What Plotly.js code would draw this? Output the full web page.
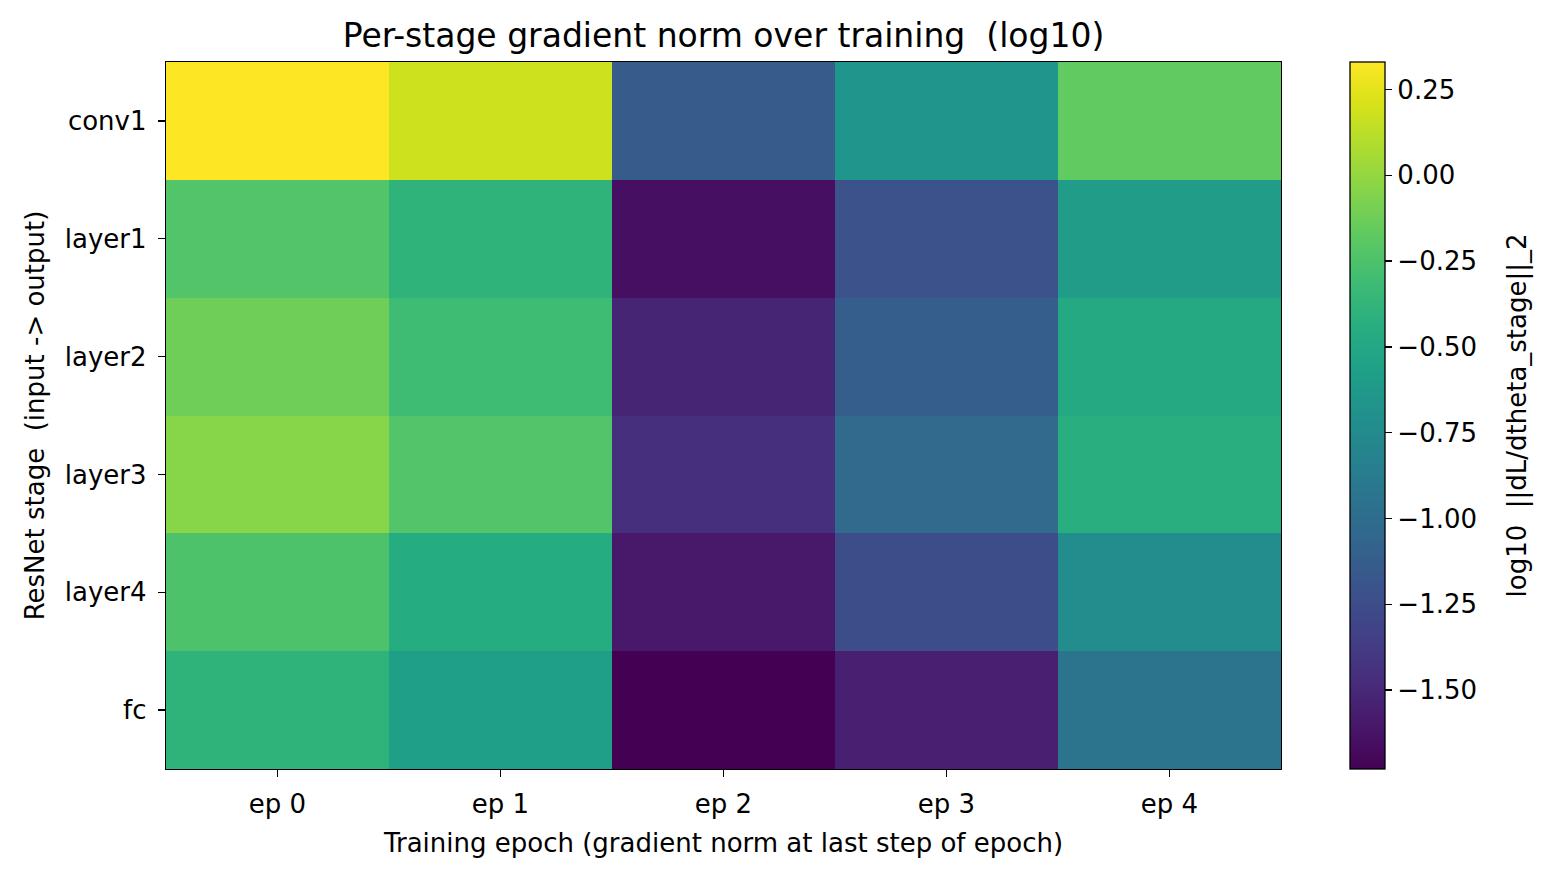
<!DOCTYPE html>
<html>
<head>
<meta charset="utf-8">
<script src="https://cdn.plot.ly/plotly-3.0.1.min.js"></script>
<style>html,body{margin:0;padding:0;background:#fff;}#chart{width:1550px;height:877px;}</style>
</head>
<body>
<div id="chart"></div>
<script>
const epochs = ["ep 0", "ep 1", "ep 2", "ep 3", "ep 4"];
const stages = ["conv1", "layer1", "layer2", "layer3", "layer4", "fc"];
const conv1  = [ 0.33,  0.18, -1.14, -0.66, -0.17];
const layer1 = [-0.23, -0.39, -1.65, -1.21, -0.60];
const layer2 = [-0.12, -0.31, -1.52, -1.12, -0.48];
const layer3 = [-0.04, -0.23, -1.45, -1.02, -0.43];
const layer4 = [-0.25, -0.46, -1.60, -1.25, -0.74];
const fc     = [-0.39, -0.58, -1.73, -1.55, -0.95];
const zValues = [conv1, layer1, layer2, layer3, layer4, fc];
const cbTitle = "log10\u00a0\u00a0||dL/dtheta_stage||_2";

const fam = "DejaVu Sans, sans-serif";
const FS = 26;
const trace = {
  type: "heatmap",
  x: epochs,
  y: stages,
  z: zValues,
  colorscale: "Viridis",
  zsmooth: false,
  colorbar: {
    x: 1.0619, xanchor: "left", xref: "paper",
    y: 0.5, yanchor: "middle", len: 1, lenmode: "fraction",
    thickness: 35, thicknessmode: "pixels",
    outlinewidth: 1.3, outlinecolor: "#000",
    tickmode: "linear", tick0: 0, dtick: 0.25, tickformat: ".2f",
    ticks: "outside", ticklen: 7, tickwidth: 1.3, tickcolor: "#000",
    tickfont: {family: fam, size: FS, color: "#000"},
    xpad: 0, ypad: 0
  }
};

const layout = {
  width: 1550, height: 877,
  paper_bgcolor: "#fff", plot_bgcolor: "#fff",
  margin: {l: 166, r: 269, t: 62, b: 108, pad: 0},
  font: {family: fam, size: FS, color: "#000"},
  title: {
    text: "Per-stage gradient norm over training\u00a0\u00a0(log10)",
    x: 0.5, xref: "paper", xanchor: "center",
    y: 1 - 35/877, yref: "container", yanchor: "middle",
    font: {family: fam, size: 33, color: "#000"}
  },
  xaxis: {
    type: "category", range: [-0.5, 4.5],
    showline: true, linecolor: "#000", linewidth: 1.3, mirror: true,
    ticks: "outside", ticklen: 7, tickwidth: 1.3, tickcolor: "#000",
    ticklabelstandoff: 4,
    showgrid: false, zeroline: false,
    tickfont: {family: fam, size: FS, color: "#000"},
    title: {text: "Training epoch (gradient norm at last step of epoch)", standoff: 16,
            font: {family: fam, size: FS, color: "#000"}}
  },
  yaxis: {
    type: "category", autorange: "reversed",
    showline: true, linecolor: "#000", linewidth: 1.3, mirror: true,
    ticks: "outside", ticklen: 7, tickwidth: 1.3, tickcolor: "#000",
    ticklabelstandoff: 6,
    showgrid: false, zeroline: false,
    tickfont: {family: fam, size: FS, color: "#000"},
    title: {text: "ResNet stage\u00a0\u00a0(input -> output)", standoff: 12,
            font: {family: fam, size: FS, color: "#000"}}
  },
  annotations: [{
    text: cbTitle, textangle: -90,
    xref: "paper", yref: "paper", x: (1517 - 166) / 1115, y: 0.5,
    xanchor: "center", yanchor: "middle", showarrow: false,
    font: {family: fam, size: FS, color: "#000"}
  }]
};

Plotly.newPlot("chart", [trace], layout, {staticPlot: true, displayModeBar: false});
</script>
</body>
</html>
